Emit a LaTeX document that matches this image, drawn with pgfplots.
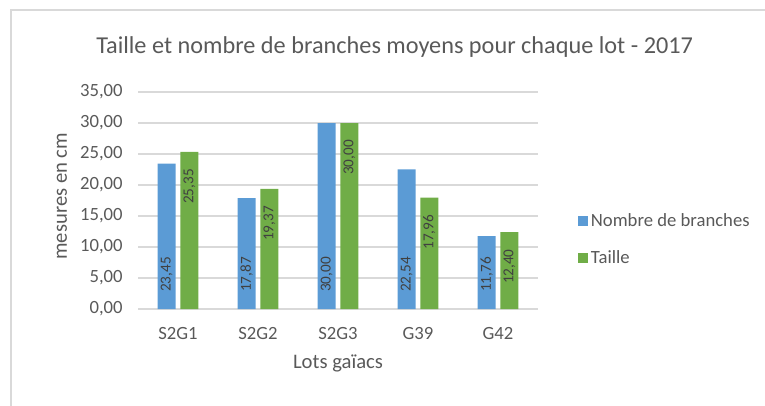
\documentclass[border=0pt]{standalone}
\usepackage{pgfplots}
\pgfplotsset{compat=1.18}
\usepackage{pgfplotstable}
\usepackage{fontspec}
\setmainfont{Carlito}
\definecolor{cblue}{HTML}{5B9BD5}
\definecolor{cgreen}{HTML}{70AD47}
\definecolor{ctext}{HTML}{595959}
\definecolor{clabel}{HTML}{404040}
\definecolor{cgrid}{HTML}{D9D9D9}
\pgfplotstableread{
x nb taille
0 23.45 25.35
1 17.87 19.37
2 30.00 30.00
3 22.54 17.96
4 11.76 12.40
}\datatable
\begin{document}
\begin{tikzpicture}
\path[use as bounding box] (0pt,0pt) rectangle (573.75pt,-304.5pt);
\draw[cgrid, line width=1.1pt] (8.25pt,-304.5pt) -- (8.25pt,-7.5pt) -- (573.75pt,-7.5pt);
\node[text=ctext, font=\fontsize{18.2}{21}\selectfont] at (296pt,-35.25pt) {Taille et nombre de branches moyens pour chaque lot - 2017};
\begin{axis}[
  at={(103.5pt,-231.75pt)}, anchor=south west,
  width=300pt, height=162.75pt, scale only axis,
  xmin=-0.5, xmax=4.5, ymin=0, ymax=35,
  xtick={0,1,2,3,4}, xticklabels={S2G1,S2G2,S2G3,G39,G42},
  ytick={0,5,10,15,20,25,30,35},
  ymajorgrids, grid style={cgrid, line width=1.1pt},
  axis x line*=bottom, axis y line*=left,
  axis line style={draw=none},
  major tick length=0pt,
  tick label style={text=ctext, font=\fontsize{14}{16}\selectfont},
  yticklabel style={xshift=-8pt},
  xticklabel style={yshift=-10pt},
  /pgf/number format/.cd, fixed, fixed zerofill, precision=2, use comma, assume math mode=true,
  /pgfplots/.cd,
  ylabel={mesures en cm}, xlabel={Lots gaïacs},
  label style={text=ctext, font=\fontsize{15.5}{18}\selectfont},
  ylabel style={at={(rel axis cs:-0.19,0.52)}, anchor=center},
  xlabel style={at={(rel axis cs:0.5,0)}, anchor=center, yshift=-41pt},
  ybar, bar width=13.5pt,
  legend style={draw=none, fill=none, at={(rel axis cs:1.09,0.32)}, anchor=west,
    font=\fontsize{14}{16}\selectfont, text=ctext, row sep=12pt,
    /tikz/every odd column/.append style={column sep=0pt}},
  legend cell align=left,
  legend image code/.code={\fill (0pt,-3.75pt) rectangle (7.5pt,3.75pt);},
  visualization depends on={rawy \as \rawy},
  nodes near coords={\pgfmathprintnumber[fixed, fixed zerofill, precision=2, use comma, assume math mode=true]{\pgfplotspointmeta}},
]
\addplot[fill=cblue, draw=none, bar shift=-8.5pt,
  nodes near coords style={text=clabel, font=\fontsize{11.4}{13}\selectfont, inner sep=0pt,
    yshift={-\rawy*4.65pt+12.75pt}, rotate=90, anchor=west}]
  table[x=x, y=nb] {\datatable};
\addlegendentry{Nombre de branches}
\addplot[fill=cgreen, draw=none, bar shift=8.5pt,
  nodes near coords style={text=clabel, font=\fontsize{11.4}{13}\selectfont, inner sep=0pt,
    yshift=-12.75pt, rotate=90, anchor=east}]
  table[x=x, y=taille] {\datatable};
\addlegendentry{Taille}
\end{axis}
\end{tikzpicture}
\end{document}
